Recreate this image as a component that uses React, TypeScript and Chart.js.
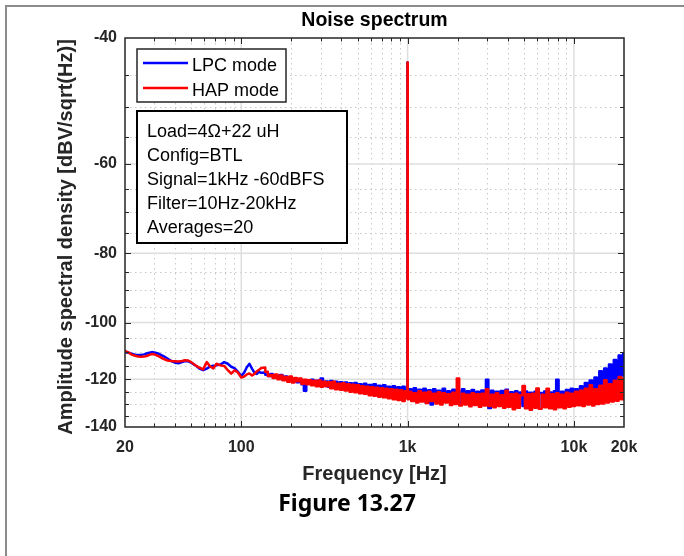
import React, { useEffect, useRef } from 'react';
import { Chart, registerables } from 'chart.js';

Chart.register(...registerables);

// ---------------- data ----------------
const FREQ_HZ = [
  20, 21, 22, 23, 24, 25, 26, 27, 28, 29, 30, 32, 34, 36, 38, 40, 42, 44, 46, 48, 50, 53, 56, 59, 62, 65, 68, 71, 75, 79, 83, 87, 91, 95,
  100, 104, 108, 112, 116, 120, 124, 128, 132, 137, 142, 147, 152, 157, 162, 168, 174, 180, 186, 192, 198, 205, 212, 219, 226, 234, 242, 250, 258, 267,
  276, 285, 295, 305, 315, 326, 337, 348, 360, 372, 385, 398, 411, 425, 440, 455, 470, 486, 502, 519, 537, 555, 574, 593, 613, 634, 655, 677, 700, 724,
  748, 773, 800, 827, 855, 884, 914, 945, 977,
  996, 1000, 1004,
  1034, 1069, 1105, 1143, 1182, 1222, 1264, 1307, 1351, 1397, 1445, 1494, 1545, 1597, 1652, 1708, 1766, 1826, 1888, 1952,
  2000, 2087, 2158, 2232, 2307, 2386, 2467, 2551, 2638, 2727, 2820, 2916, 3000, 3118, 3224, 3333, 3447, 3564, 3685, 3811,
  3940, 4074, 4213, 4356, 4504, 4657, 4816, 5000, 5149, 5324, 5505, 5692, 5885, 6000, 6293, 6507, 6728, 6957, 7193, 7438,
  7691, 7952, 8223, 8502, 8791, 9090, 9400, 9719, 10000,
  10340, 10690, 11050, 11430, 11820, 12220, 12640, 13070, 13510, 13970, 14450, 14940, 15450, 15970, 16520, 17080, 17660, 18260, 18880, 19520, 20000,
];

const LPC_DB = [
  -110.0, -110.2, -110.6, -110.9, -111.0, -111.0, -110.8, -110.5, -110.2, -110.0, -110.1, -110.6, -111.4, -112.3, -113.2, -113.8, -114.0,
  -113.6, -113.2, -113.3, -113.8, -114.8, -116.0, -116.6, -116.0, -115.2, -114.9, -114.8, -114.5, -113.6, -114.2, -115.3, -115.8, -117.0,
  -118.8, -117.5, -115.5, -114.2, -116.0, -117.5, -118.0, -117.2, -117.6, -117.6,
  -118.3, -118.8, -118.0, -119.2, -118.5, -119.6, -118.4, -120.2, -119.0, -120.4,
  -119.3, -121.0, -119.8, -121.2, -120.0, -122.0, -124.6, -120.4, -121.6, -120.2,
  -122.2, -120.6, -122.6, -119.8, -122.4, -120.9, -123.0, -120.7, -122.8, -121.0,
  -123.4, -121.2, -123.6, -121.3, -123.8, -121.6, -124.2, -121.5, -124.0, -122.0,
  -124.6, -121.8, -125.0, -122.3, -124.8, -122.0, -125.4, -122.6, -125.0, -122.4,
  -125.8, -123.0, -126.2, -122.8, -125.6, -123.2, -126.5, -123.0, -126.0,
  -127.0, -43.3, -125.0,
  -124.0, -128.5, -123.6, -129.0, -124.2, -128.0, -123.8, -129.5, -124.4, -130.2,
  -124.0, -128.6, -124.6, -129.2, -123.8, -128.4, -124.8, -129.6, -124.2, -128.8,
  -124.5, -129.4, -124.0, -129.0, -124.8, -130.0, -124.3, -129.2, -125.0, -130.0,
  -124.5, -129.5, -120.2, -131.7, -124.6, -130.2, -125.0, -129.8, -124.7, -130.5,
  -124.2, -130.0, -125.2, -130.6, -124.8, -130.2, -125.3, -130.8, -124.9, -130.4,
  -125.4, -131.0, -125.0, -130.6, -125.5, -131.2, -124.9, -130.5, -125.3, -131.0,
  -124.8, -120.2, -130.6, -125.0, -130.8, -124.3, -130.2, -123.8, -129.8,
  -124.0, -129.0, -122.8, -128.0, -121.5, -127.4, -120.5, -126.6, -119.4, -125.8,
  -117.0, -125.0, -116.0, -123.0, -114.5, -121.6, -112.8, -120.0, -111.2, -118.6, -110.6,
];

const HAP_DB = [
  -109.6, -110.2, -110.9, -111.3, -111.6, -111.7, -111.6, -111.4, -111.0, -110.7, -110.8, -111.5, -112.4, -113.0, -113.2, -113.3, -113.4,
  -113.2, -112.9, -113.0, -113.6, -114.8, -115.6, -116.3, -113.6, -115.2, -115.9, -114.2, -114.8, -115.0, -116.6, -117.9, -116.7, -117.3,
  -119.4, -119.0, -118.2, -117.8, -118.6, -118.0, -117.0, -116.4, -115.8, -115.7,
  -117.2, -118.8, -118.4, -119.6, -118.2, -120.0, -118.6, -120.4, -119.2, -121.0,
  -119.0, -121.3, -119.6, -120.8, -119.8, -121.8, -120.2, -122.0, -120.4, -122.4,
  -120.6, -122.8, -120.5, -123.0, -121.0, -122.8, -121.2, -123.6, -121.0, -124.0,
  -121.8, -124.2, -121.6, -124.5, -122.0, -125.0, -122.2, -125.2, -122.4, -125.6,
  -122.8, -125.8, -123.0, -126.4, -123.2, -126.6, -123.4, -127.0, -123.6, -127.2,
  -123.8, -127.6, -124.0, -128.0, -124.2, -128.3, -124.4, -128.8, -124.8,
  -127.5, -43.3, -128.0,
  -125.0, -128.8, -125.6, -129.4, -124.8, -129.0, -125.4, -129.6, -125.0, -128.8,
  -125.8, -129.8, -125.2, -130.2, -125.6, -129.4, -126.0, -130.4, -125.4, -130.0,
  -119.8, -130.6, -125.8, -130.2, -126.2, -131.0, -125.6, -130.4, -126.0, -131.2,
  -125.8, -130.6, -124.0, -130.8, -126.2, -131.4, -125.6, -130.8, -126.4, -131.6,
  -124.6, -131.2, -126.0, -132.2, -125.8, -131.6, -126.4, -122.7, -131.8, -126.0,
  -132.4, -125.8, -131.6, -123.7, -132.0, -126.2, -131.4, -123.8, -131.8, -126.0,
  -132.2, -125.6, -131.4, -126.2, -131.8, -125.4, -131.2, -125.8, -130.8,
  -125.0, -130.5, -124.6, -130.8, -123.8, -130.2, -122.4, -130.6, -124.0, -130.0,
  -122.6, -129.8, -120.4, -129.4, -122.0, -129.0, -120.6, -128.6, -119.2, -128.0, -119.8,
];

const X_TICKS = [20, 100, 1000, 10000, 20000];
const X_TICK_LABELS = ['20', '100', '1k', '10k', '20k'];
const X_MAJOR = [100, 1000, 10000];
const X_MINOR = [30, 40, 50, 60, 70, 80, 90, 200, 300, 400, 500, 600, 700, 800, 900, 2000, 3000, 4000, 5000, 6000, 7000, 8000, 9000];
const Y_TICKS = [-40, -60, -80, -100, -120, -140];
const Y_MAJOR = [-60, -80, -100, -120];
const Y_MINOR = [-45, -50, -55, -65, -70, -75, -85, -90, -95, -105, -110, -115, -125, -130, -135];

// below this frequency the traces are drawn as plain lines, above it as dense noise
const NOISE_FROM_HZ = 137;

const SERIES_NAMES = ['LPC mode', 'HAP mode'];
const SERIES_COLORS = ['#0000ff', '#ff0000'];
const INFO_LINES = ['Load=4\u03A9+22 uH', 'Config=BTL', 'Signal=1kHz -60dBFS', 'Filter=10Hz-20kHz', 'Averages=20'];
const TITLE = 'Noise spectrum';
const X_TITLE = 'Frequency [Hz]';
const Y_TITLE = 'Amplitude spectral density [dBV/sqrt(Hz)]';
const CAPTION = 'Figure 13.27';

// ---------------- drawing ----------------
const FONT = '"Liberation Sans", Arial, Helvetica, sans-serif';
const AXIS_COLOR = '#262626';

function seg(ctx: CanvasRenderingContext2D, x1: number, y1: number, x2: number, y2: number) {
  ctx.beginPath();
  ctx.moveTo(x1, y1);
  ctx.lineTo(x2, y2);
  ctx.stroke();
}

const decorPlugin = {
  id: 'decor',
  beforeDatasetsDraw(chart: any) {
    const { ctx, chartArea: a } = chart;
    const xs = chart.scales.x;
    const ys = chart.scales.y;
    ctx.save();
    ctx.lineWidth = 1;
    ctx.strokeStyle = '#c8c8c8';
    ctx.setLineDash([1.5, 3.5]);
    X_MINOR.forEach((f) => {
      const px = Math.round(xs.getPixelForValue(f)) + 0.5;
      seg(ctx, px, a.top, px, a.bottom);
    });
    Y_MINOR.forEach((d) => {
      const py = Math.round(ys.getPixelForValue(-d)) + 0.5;
      seg(ctx, a.left, py, a.right, py);
    });
    ctx.setLineDash([]);
    ctx.strokeStyle = '#dedede';
    ctx.lineWidth = 1.5;
    X_MAJOR.forEach((f) => {
      const px = xs.getPixelForValue(f);
      seg(ctx, px, a.top, px, a.bottom);
    });
    Y_MAJOR.forEach((d) => {
      const py = ys.getPixelForValue(-d);
      seg(ctx, a.left, py, a.right, py);
    });
    ctx.restore();
  },
  afterDatasetsDraw(chart: any) {
    const { ctx, chartArea: a } = chart;
    const xs = chart.scales.x;
    const ys = chart.scales.y;
    ctx.save();
    ctx.strokeStyle = AXIS_COLOR;
    ctx.lineWidth = 1;
    const xt = (f: number, len: number) => {
      const px = Math.round(xs.getPixelForValue(f)) + 0.5;
      seg(ctx, px, a.bottom, px, a.bottom - len);
      seg(ctx, px, a.top, px, a.top + len);
    };
    X_MAJOR.forEach((f) => xt(f, 6));
    X_MINOR.forEach((f) => xt(f, 3.5));
    const yt = (d: number, len: number) => {
      const py = Math.round(ys.getPixelForValue(-d)) + 0.5;
      seg(ctx, a.left, py, a.left + len, py);
      seg(ctx, a.right, py, a.right - len, py);
    };
    Y_MAJOR.forEach((d) => yt(d, 6));
    Y_MINOR.forEach((d) => yt(d, 4));
    ctx.lineWidth = 1.5;
    ctx.strokeRect(a.left, a.top, a.right - a.left, a.bottom - a.top);

    // legend
    const lx = a.left + 12;
    const ly = a.top + 11;
    ctx.fillStyle = '#fff';
    ctx.fillRect(lx, ly, 149, 53);
    ctx.lineWidth = 1.5;
    ctx.strokeStyle = AXIS_COLOR;
    ctx.strokeRect(lx, ly, 149, 53);
    ctx.font = `18px ${FONT}`;
    ctx.textAlign = 'left';
    ctx.textBaseline = 'alphabetic';
    SERIES_NAMES.forEach((name, i) => {
      const yy = ly + 14 + i * 25;
      ctx.strokeStyle = SERIES_COLORS[i];
      ctx.lineWidth = 2.5;
      seg(ctx, lx + 6, yy, lx + 51, yy);
      ctx.fillStyle = '#000';
      ctx.fillText(name, lx + 55, yy + 7.5);
    });

    // info box
    const bx = a.left + 12;
    const by = a.top + 73;
    ctx.fillStyle = '#fff';
    ctx.fillRect(bx, by, 210, 132);
    ctx.strokeStyle = '#000';
    ctx.lineWidth = 2;
    ctx.strokeRect(bx, by, 210, 132);
    ctx.fillStyle = '#000';
    INFO_LINES.forEach((t, i) => {
      ctx.fillText(t, bx + 10, by + 25.7 + i * 24);
    });
    ctx.restore();
  },
  afterDraw(chart: any) {
    const { ctx, chartArea: a } = chart;
    const cx = (a.left + a.right) / 2;
    ctx.save();
    ctx.textAlign = 'center';
    ctx.textBaseline = 'alphabetic';
    ctx.fillStyle = '#000';
    ctx.font = `bold 19.5px ${FONT}`;
    ctx.fillText(TITLE, cx, 26);
    ctx.fillStyle = AXIS_COLOR;
    ctx.font = `bold 20px ${FONT}`;
    ctx.fillText(X_TITLE, cx, 480);
    ctx.save();
    ctx.translate(72, 237);
    ctx.rotate(-Math.PI / 2);
    ctx.fillText(Y_TITLE, 0, 0);
    ctx.restore();
    ctx.fillStyle = '#000';
    ctx.font = `bold 23px "Noto Sans", "Open Sans", sans-serif`;
    ctx.fillText(CAPTION, 347, 511);
    ctx.restore();
  },
};

function buildDatasets() {
  const out: any[] = [];
  const series = [LPC_DB, HAP_DB];
  series.forEach((vals, s) => {
    const pts = FREQ_HZ.map((f, i) => ({ x: f, y: -vals[i] }));
    const smooth = pts.filter((p) => p.x <= NOISE_FROM_HZ);
    const noisy = pts.filter((p) => p.x >= NOISE_FROM_HZ);
    const common = {
      label: SERIES_NAMES[s],
      borderColor: SERIES_COLORS[s],
      backgroundColor: SERIES_COLORS[s],
      borderWidth: 2.5,
      pointRadius: 0,
      tension: 0,
      borderJoinStyle: 'round',
      borderCapStyle: 'round',
      order: s === 0 ? 2 : 1,
    };
    out.push({ ...common, data: smooth });
    out.push({ ...common, data: noisy, stepped: 'middle' });
  });
  return out;
}

export default function App() {
  const ref = useRef<HTMLCanvasElement | null>(null);
  useEffect(() => {
    if (!ref.current) return;
    const chart = new Chart(ref.current, {
      type: 'line',
      data: { datasets: buildDatasets() },
      options: {
        animation: false,
        responsive: false,
        devicePixelRatio: 1,
        layout: { padding: { left: 0, top: 38, right: 60, bottom: 99 } },
        plugins: { legend: { display: false }, tooltip: { enabled: false }, title: { display: false } },
        scales: {
          x: {
            type: 'logarithmic',
            min: 20,
            max: 20000,
            grid: { display: false, drawTicks: false },
            border: { display: false },
            afterBuildTicks: (s: any) => {
              s.ticks = X_TICKS.map((v) => ({ value: v }));
            },
            afterFit: (s: any) => {
              s.height = 30;
            },
            ticks: {
              autoSkip: false,
              maxRotation: 0,
              padding: 11,
              color: AXIS_COLOR,
              font: { family: FONT, size: 16, weight: 'bold' },
              callback: (v: any) => {
                const i = X_TICKS.indexOf(Number(v));
                return i >= 0 ? X_TICK_LABELS[i] : '';
              },
            },
          },
          y: {
            type: 'logarithmic',
            min: 40,
            max: 140,
            reverse: true,
            grid: { display: false, drawTicks: false },
            border: { display: false },
            afterBuildTicks: (s: any) => {
              s.ticks = Y_TICKS.map((v) => ({ value: -v }));
            },
            afterFit: (s: any) => {
              s.width = 125;
            },
            ticks: {
              autoSkip: false,
              padding: 8,
              color: AXIS_COLOR,
              font: { family: FONT, size: 16, weight: 'bold' },
              callback: (v: any) => '-' + Number(v),
            },
          },
        },
      },
      plugins: [decorPlugin],
    } as any);
    return () => chart.destroy();
  }, []);

  return (
    <div style={{ position: 'absolute', left: 0, top: 0, width: 684, height: 556, background: '#fff', overflow: 'hidden' }}>
      <div
        style={{
          position: 'absolute',
          left: 5,
          top: 5,
          width: 720,
          height: 600,
          borderLeft: '2px solid #8c8c8c',
          borderTop: '2px solid #8c8c8c',
        }}
      />
      <canvas ref={ref} width={684} height={556} style={{ position: 'absolute', left: 0, top: 0, width: 684, height: 556 }} />
    </div>
  );
}
